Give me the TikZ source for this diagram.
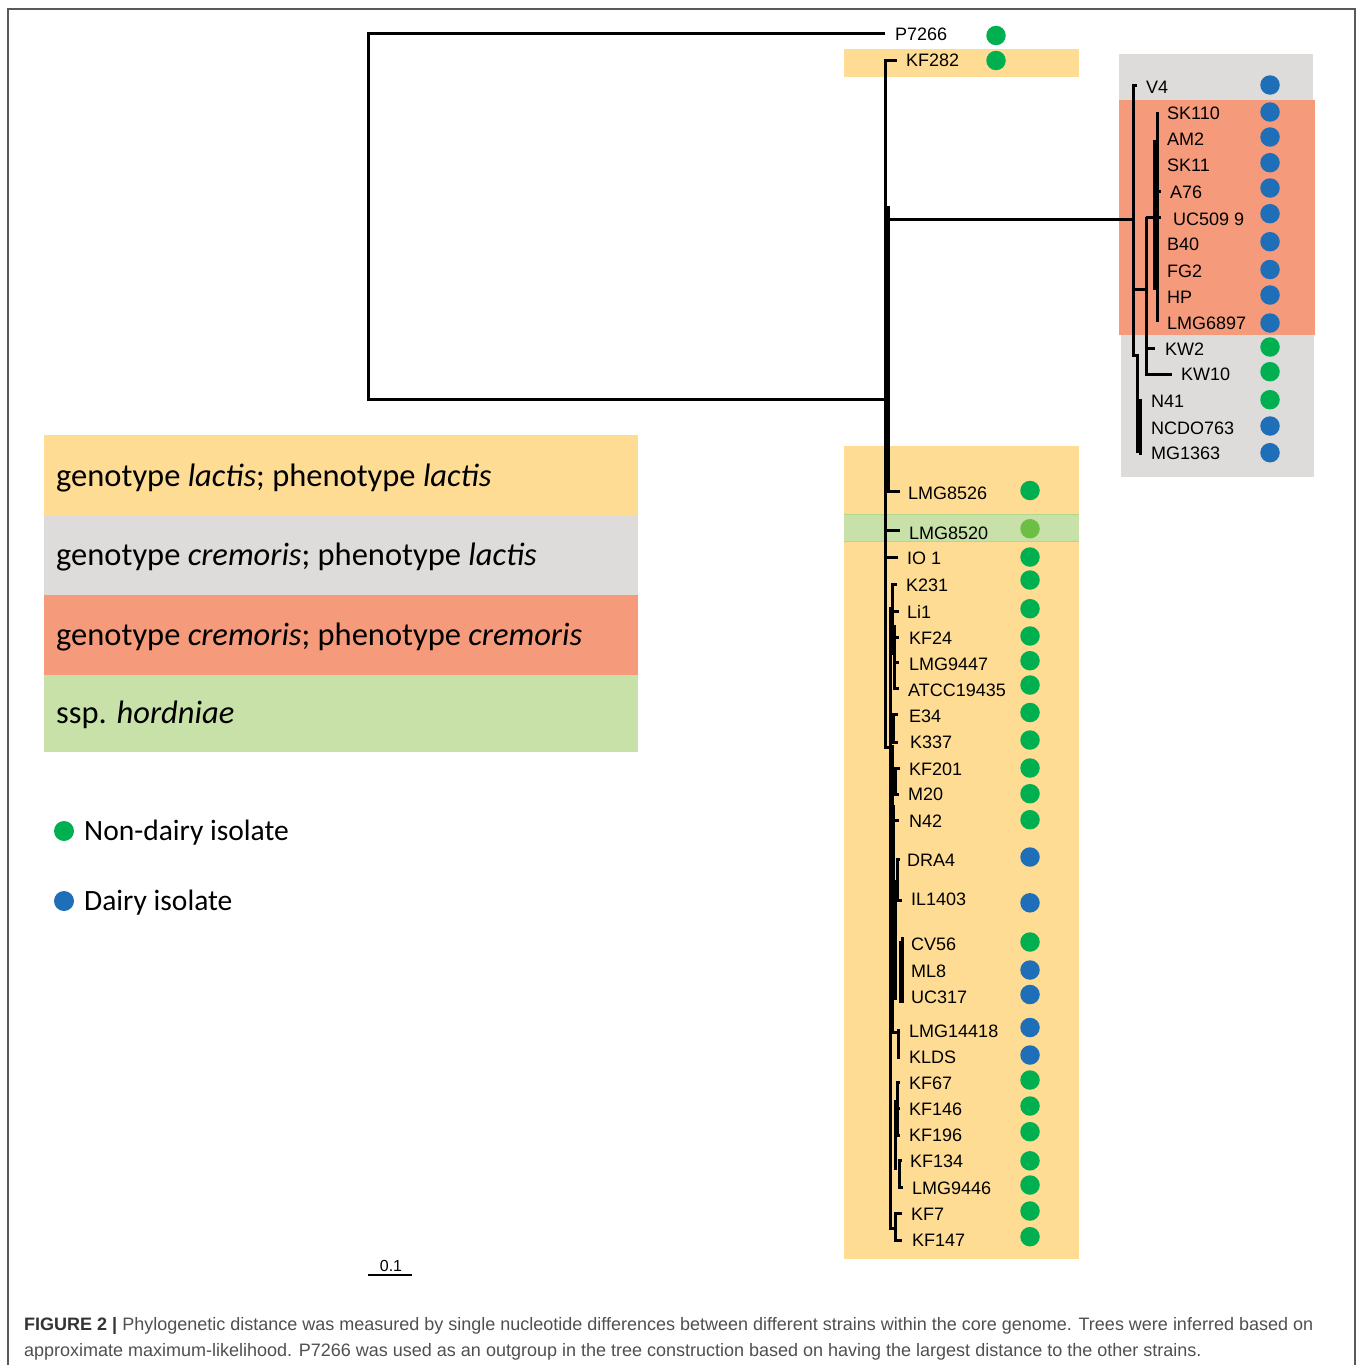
\documentclass[tikz,border=0pt]{standalone}
\usepackage{fontspec}
\setmainfont{Liberation Sans}
\newfontfamily\legfont{Carlito}
\definecolor{cgreen}{HTML}{00B050}
\definecolor{cblue}{HTML}{1F6EB8}
\definecolor{corange}{HTML}{FEDC93}
\definecolor{cgray}{HTML}{DDDCDB}
\definecolor{csalmon}{HTML}{F59A7B}
\definecolor{clgreen}{HTML}{C8E1A9}
\definecolor{cmgreen}{HTML}{6DBE45}
\definecolor{cbord}{HTML}{B5D78A}
\definecolor{capdark}{HTML}{333333}
\definecolor{caplight}{HTML}{505050}
\tikzset{
  br/.style={line width=3pt},
  lab/.style={anchor=base west, inner sep=0pt, font=\fontsize{18}{20}\selectfont},
  dotn/.style={circle, minimum size=19.5pt, inner sep=0pt, draw=none},
  legtext/.style={anchor=base west, inner sep=0pt, font=\legfont\fontsize{32.5}{36}\selectfont},
  legkey/.style={anchor=base west, inner sep=0pt, font=\legfont\fontsize{29.5}{34}\selectfont},
  band/.style={draw=none, inner sep=0pt, anchor=north west}
}
\newcommand{\leaf}[7]{%
  \node[lab] (#1) at (#2,#3+6.4) {#4};
  \node[dotn, fill=#7] (#1d) at (#5,#6) {};
}
\begin{document}
\begin{tikzpicture}[x=1pt,y=-1pt]
\useasboundingbox (0,0) rectangle (1358,1365);
\fill[white] (0,0) rectangle (1358,1365);
% frame
\draw[line width=1.8pt, color=black!65] (8,1366) -- (8,9) -- (1355,9) -- (1355,1366);

% ---- background bands of the tree
\fill[corange] (844,49) rectangle (1079,77);
\fill[cgray] (1119,54) rectangle (1313,100);
\fill[csalmon] (1119,100) rectangle (1315,335);
\fill[cgray] (1121,335) rectangle (1314,477);
\fill[corange] (844,446) rectangle (1079,1259);
\fill[clgreen] (844,514) rectangle (1079,542);
\draw[cbord, line width=1pt] (844,514.5) -- (1079,514.5) (844,541.5) -- (1079,541.5);

% ---- legend
\node[band, fill=corange, minimum width=594pt, minimum height=80pt] (lg1) at (44,435) {};
\node[band, fill=cgray, minimum width=594pt, minimum height=80pt] (lg2) at (44,515) {};
\node[band, fill=csalmon, minimum width=594pt, minimum height=80pt] (lg3) at (44,595) {};
\node[band, fill=clgreen, minimum width=594pt, minimum height=77pt] (lg4) at (44,675) {};
\node[legtext] (lt1) at (56,486) {genotype \textit{lactis}; phenotype \textit{lactis}};
\node[legtext] (lt2) at (56,565) {genotype \textit{cremoris}; phenotype \textit{lactis}};
\node[legtext] (lt3) at (56,645) {genotype \textit{cremoris}; phenotype \textit{cremoris}};
\node[legtext] (lt4) at (56,723) {ssp. \textit{hordniae}};
\node[dotn, fill=cgreen, minimum size=20pt] (ldg) at (64,831) {};
\node[dotn, fill=cblue, minimum size=20pt] (ldb) at (64,901) {};
\node[legkey] (ltg) at (84,840) {Non-dairy isolate};
\node[legkey] (ltb) at (84,910) {Dairy isolate};

% ---- leaves
\leaf{P7266}{895}{34.5}{P7266}{996}{35.5}{cgreen}
\leaf{KF282}{906}{60.5}{KF282}{996}{60.5}{cgreen}
\leaf{V4}{1146}{87.5}{V4}{1270}{85}{cblue}
\leaf{SK110}{1167}{113}{SK110}{1270}{112}{cblue}
\leaf{AM2}{1167}{139.5}{AM2}{1270}{137}{cblue}
\leaf{SK11}{1167}{165}{SK11}{1270}{162.7}{cblue}
\leaf{A76}{1170}{192.5}{A76}{1270}{188}{cblue}
\leaf{UC509}{1173}{218.7}{UC509 9}{1270}{213.7}{cblue}
\leaf{B40}{1167}{244}{B40}{1270}{241.7}{cblue}
\leaf{FG2}{1167}{271}{FG2}{1270}{269.5}{cblue}
\leaf{HP}{1167}{296.7}{HP}{1270}{295}{cblue}
\leaf{LMG6897}{1167}{323}{LMG6897}{1270}{323}{cblue}
\leaf{KW2}{1165}{349}{KW2}{1270}{347}{cgreen}
\leaf{KW10}{1181}{374.5}{KW10}{1270}{371.7}{cgreen}
\leaf{N41}{1151}{401}{N41}{1270}{399.7}{cgreen}
\leaf{NCDO763}{1151}{427.8}{NCDO763}{1270}{426}{cblue}
\leaf{MG1363}{1151}{453}{MG1363}{1270}{452.7}{cblue}
\leaf{LMG8526}{908}{493}{LMG8526}{1030}{490.5}{cgreen}
\leaf{LMG8520}{909}{532.7}{LMG8520}{1030}{528.7}{cmgreen}
\leaf{IO1}{907}{558}{IO 1}{1030}{557}{cgreen}
\leaf{K231}{906}{585}{K231}{1030}{580}{cgreen}
\leaf{Li1}{907}{612}{Li1}{1030}{608.7}{cgreen}
\leaf{KF24}{909}{638}{KF24}{1030}{636}{cgreen}
\leaf{LMG9447}{909}{664}{LMG9447}{1030}{660.7}{cgreen}
\leaf{ATCC19435}{908}{689.7}{ATCC19435}{1030}{685}{cgreen}
\leaf{E34}{909}{716.3}{E34}{1030}{712.5}{cgreen}
\leaf{K337}{910}{742}{K337}{1030}{740}{cgreen}
\leaf{KF201}{909}{768.7}{KF201}{1030}{768}{cgreen}
\leaf{M20}{908}{794.5}{M20}{1030}{793.7}{cgreen}
\leaf{N42}{909}{820.8}{N42}{1030}{819.7}{cgreen}
\leaf{DRA4}{907}{860}{DRA4}{1030}{857}{cblue}
\leaf{IL1403}{911}{899.5}{IL1403}{1030}{902.8}{cblue}
\leaf{CV56}{911}{944.5}{CV56}{1030}{942}{cgreen}
\leaf{ML8}{911}{971}{ML8}{1030}{970}{cblue}
\leaf{UC317}{911}{997.3}{UC317}{1030}{994.5}{cblue}
\leaf{LMG14418}{909}{1030.7}{LMG14418}{1030}{1027.5}{cblue}
\leaf{KLDS}{909}{1057}{KLDS}{1030}{1055}{cblue}
\leaf{KF67}{909}{1083}{KF67}{1030}{1080}{cgreen}
\leaf{KF146}{909}{1109.5}{KF146}{1030}{1106}{cgreen}
\leaf{KF196}{909}{1135}{KF196}{1030}{1131.7}{cgreen}
\leaf{KF134}{910}{1161}{KF134}{1030}{1160.8}{cgreen}
\leaf{LMG9446}{912}{1188}{LMG9446}{1030}{1185}{cgreen}
\leaf{KF7}{911}{1213.7}{KF7}{1030}{1211}{cgreen}
\leaf{KF147}{912}{1240}{KF147}{1030}{1236.7}{cgreen}

% ---- tree branches
\begin{scope}[br]
% root and outgroup
\coordinate (root1) at (368,33);
\coordinate (root2) at (368,399);
\draw (885,33) -- (root1) -- (root2) -- (884,399);
% ingroup backbone
\draw (897,60) -- (885,60) -- (885,747) -- (892,747);
\draw (886,206) -- (886,360);
\draw (888,206) -- (888,491) -- (900,491);
\draw (888,219) -- (1134,219);
\draw (885,530) -- (900,530);
\draw (885,557) -- (898,557);
% K231 group
\draw (897,584) -- (892,584) -- (892,655);
\draw (890,607) -- (890,1228) -- (895,1228);
\draw (890,611) -- (899,611);
\draw (894,625) -- (894,690);
\draw (894,637) -- (899,637);
\draw (896,662) -- (899,662);
\draw (896,688) -- (899,688);
% E34, K337
\draw (898,714) -- (893,714) -- (893,742) -- (898,742);
\draw (892,745) -- (892,1032);
% KF201, M20, N42
\draw (900,768) -- (895,768) -- (895,794) -- (899,794);
\draw (893,805) -- (893,890);
\draw (893,820) -- (899,820);
% DRA4, IL1403
\draw (900,859) -- (897,859) -- (897,900) -- (902,900);
\draw (895,880) -- (895,1000);
% CV56, ML8, UC317
\draw (903,942) -- (900,942) -- (900,1003);
\draw (902,937) -- (902,1003);
\draw (900,971) -- (904,971);
\draw (900,997) -- (904,997);
\draw (892,1032) -- (898,1032);
% LMG14418, KLDS
\draw (900,1030) -- (898,1030) -- (898,1057) -- (900,1057);
% KF67, KF146, KF196
\draw (900,1082) -- (897,1082) -- (897,1135) -- (900,1135);
\draw (897,1108) -- (900,1108);
\draw (895,1100) -- (895,1170);
% KF134, LMG9446
\draw (902,1160) -- (899,1160) -- (899,1187) -- (903,1187);
% KF7, KF147
\draw (902,1213) -- (895,1213) -- (895,1240) -- (902,1240);
% cremoris clade
\draw (1137,85) -- (1133,85) -- (1133,355) -- (1137,355) -- (1137,453);
\draw (1137,400) -- (1142,400);
\draw (1140,400) -- (1140,453) -- (1142,453);
\draw (1140,427) -- (1142,427);
\draw (1133,289) -- (1146,289);
\draw (1146,217) -- (1146,374) -- (1172,374);
\draw (1146,217) -- (1161,217);
\draw (1146,348) -- (1155,348);
\draw (1157,112) -- (1157,322);
\draw (1154,140) -- (1154,290);
\draw (1157,137) -- (1159,137);
\draw (1157,165) -- (1159,165);
\draw (1155,191) -- (1161,191);
\draw (1157,243) -- (1159,243);
\draw (1157,270) -- (1159,270);
\end{scope}

% ---- scale bar
\coordinate (sb1) at (368,1275);
\coordinate (sb2) at (412,1275);
\draw[line width=2.6pt] (sb1) -- (sb2);
\node[anchor=base, inner sep=0pt, font=\fontsize{16}{18}\selectfont] (sbl) at (391,1271) {0.1};

% ---- caption
\node[anchor=base west, inner sep=0pt, font=\fontsize{18}{20}\selectfont] (cap1) at (24,1330)
  {\color{capdark}\textbf{FIGURE 2 |} \color{caplight}Phylogenetic distance was measured by single nucleotide differences between different strains within the core genome. Trees were inferred based on};
\node[anchor=base west, inner sep=0pt, font=\fontsize{18}{20}\selectfont, color=caplight] (cap2) at (24,1356)
  {approximate maximum-likelihood. P7266 was used as an outgroup in the tree construction based on having the largest distance to the other strains.};
\end{tikzpicture}
\end{document}
